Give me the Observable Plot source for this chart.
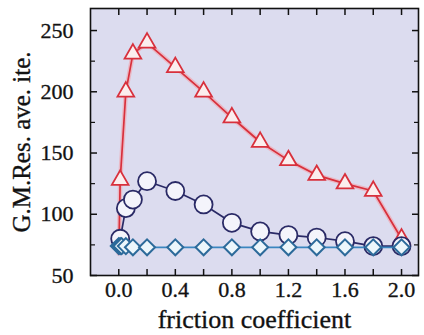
<!DOCTYPE html>
<html>
<head>
<meta charset="utf-8">
<script src="https://cdn.jsdelivr.net/npm/d3@7"></script>
<script src="https://cdn.jsdelivr.net/npm/@observablehq/plot@0.6"></script>
<style>
  html, body { margin: 0; padding: 0; background: #ffffff; }
  #chart svg { display: block; }
  #chart svg text { font-family: "Liberation Serif", "DejaVu Serif", serif !important; stroke: #1a1a1a; stroke-width: 0.35px; }
</style>
</head>
<body>
<div id="chart"></div>
<script>
// Data
const xRed = [0, 0.01, 0.05, 0.1, 0.2, 0.4, 0.6, 0.8, 1.0, 1.2, 1.4, 1.6, 1.8, 2.0];
const yRed = [68, 128, 200, 231, 240, 220, 200, 179, 159, 144, 132, 125, 119, 80];
const xNavy = [0, 0.01, 0.05, 0.1, 0.2, 0.4, 0.6, 0.8, 1.0, 1.2, 1.4, 1.6, 1.8, 2.0];
const yNavy = [68, 80, 105, 112, 127, 119, 108, 93, 86, 83, 81, 78, 74, 74];
const xBlue = [0, 0.01, 0.02, 0.05, 0.1, 0.2, 0.4, 0.6, 0.8, 1.0, 1.2, 1.4, 1.6, 1.8, 2.0];
const yBlue = [74, 74, 74, 74, 73, 73, 73, 73, 73, 73, 73, 73, 73, 73, 73];
const xTicks = [0, 0.4, 0.8, 1.2, 1.6, 2.0];
const xMinor = [0, 0.2, 0.4, 0.6, 0.8, 1.0, 1.2, 1.4, 1.6, 1.8, 2.0];
const yTicks = [50, 100, 150, 200, 250];
const yMinor = [75, 125, 175, 225];
const xLabel = "friction coefficient";
const yLabel = "G.M.Res. ave. ite.";

const red = xRed.map((x, i) => ({x, y: yRed[i]}));
const navy = xNavy.map((x, i) => ({x, y: yNavy[i]}));
const blue = xBlue.map((x, i) => ({x, y: yBlue[i]}));

const serif = "Liberation Serif, DejaVu Serif, serif";

const chart = Plot.plot({
  width: 424,
  height: 335,
  marginLeft: 90,
  marginRight: 6,
  marginTop: 8,
  marginBottom: 60,
  style: {fontFamily: serif, fontSize: "22px", color: "#111", background: "#ffffff", overflow: "visible"},
  x: {domain: [-0.2, 2.12], label: null},
  y: {domain: [50, 268], label: null},
  marks: [
    Plot.frame({fill: "#dcdcef", stroke: "none"}),
    // inward ticks
    Plot.axisY(yTicks, {anchor: "left", tickSize: -7, tickFormat: () => "", label: null, strokeWidth: 1.5}),
    Plot.axisY(yMinor, {anchor: "left", tickSize: -5, tickFormat: () => "", label: null, strokeWidth: 1.2}),
    Plot.axisY(yTicks, {anchor: "right", tickSize: -7, tickFormat: () => "", label: null, strokeWidth: 1.5}),
    Plot.axisY(yMinor, {anchor: "right", tickSize: -5, tickFormat: () => "", label: null, strokeWidth: 1.2}),
    Plot.axisX(xMinor, {anchor: "bottom", tickSize: -6, tickFormat: () => "", label: null, strokeWidth: 1.5}),
    Plot.axisX(xMinor, {anchor: "top", tickSize: -6, tickFormat: () => "", label: null, strokeWidth: 1.5}),
    // tick labels
    Plot.axisY(yTicks, {anchor: "left", tickSize: 0, tickPadding: 17, label: null, fontSize: 22, fontFamily: serif}),
    Plot.axisX(xTicks, {anchor: "bottom", tickSize: 0, tickPadding: 6, label: null, fontSize: 22, fontFamily: serif, tickFormat: d3.format(".1f")}),
    Plot.frame({stroke: "#111", strokeWidth: 1.6}),
    // series
    Plot.line(red, {x: "x", y: "y", stroke: "#f4a0a8", strokeWidth: 4.5, strokeOpacity: 0.6}),
    Plot.line(red, {x: "x", y: "y", stroke: "#d8303c", strokeWidth: 1.7}),
    Plot.dot(red.slice(1), {x: "x", y: "y", symbol: "triangle", r: 6.2, fill: "#fbeeee", stroke: "#d8303c", strokeWidth: 1.8}),
    Plot.line(navy, {x: "x", y: "y", stroke: "#2a2a66", strokeWidth: 1.7}),
    Plot.dot(navy.slice(1), {x: "x", y: "y", symbol: "circle", r: 9, fill: "#f4f4fb", stroke: "#2a2a66", strokeWidth: 1.8}),
    Plot.line(blue, {x: "x", y: "y", stroke: "#3a86c0", strokeWidth: 1.7}),
    Plot.dot(blue, {x: "x", y: "y", symbol: "diamond2", r: 7.2, fill: "#ecf6fb", stroke: "#2c6a9a", strokeWidth: 2}),
    // axis titles
    Plot.text([xLabel], {frameAnchor: "bottom", dy: 44, text: d => d, fontSize: 26, fontFamily: serif, textAnchor: "middle", lineAnchor: "middle", fill: "#111"}),
    Plot.text([yLabel], {frameAnchor: "left", dx: -69, text: d => d, fontSize: 25, fontFamily: serif, rotate: -90, textAnchor: "middle", lineAnchor: "middle", fill: "#111"})
  ]
});
document.getElementById("chart").appendChild(chart);
</script>
</body>
</html>
